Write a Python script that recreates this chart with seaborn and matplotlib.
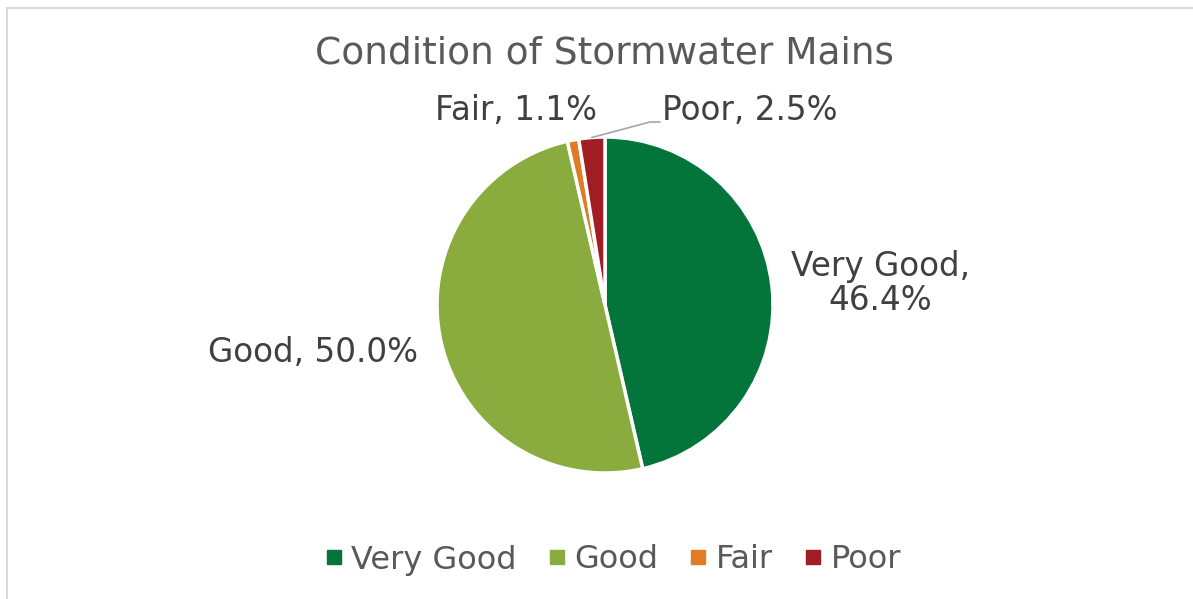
#!/usr/bin/env python3
"""Pie chart: condition of stormwater mains."""
import numpy as np
import matplotlib as mpl
import matplotlib.pyplot as plt
from matplotlib.lines import Line2D
import seaborn as sns

categories = ["Very Good", "Good", "Fair", "Poor"]
shares = [46.4, 50.0, 1.1, 2.5]
colors = ["#03753B", "#8AAB3E", "#E07B28", "#A21C23"]

# label centre positions in pie-radius units (layout only)
label_pos = [(1.64, 0.13), (-1.74, -0.28), (-0.53, 1.16), (0.86, 1.16)]

sns.set_theme(style="white")
plt.rcParams["font.family"] = "sans-serif"
plt.rcParams["font.sans-serif"] = ["DejaVu Sans"]

W, H = 1193, 599
fig = plt.figure(figsize=(W / 100, H / 100), dpi=100)

# chart border (light grey frame, clipped at right/bottom)
fig.add_artist(Line2D([7 / W, 7 / W], [0, 1 - 8 / H], color="#D9D9D9", lw=1.5))
fig.add_artist(Line2D([7 / W, 1], [1 - 8 / H, 1 - 8 / H], color="#D9D9D9", lw=1.5))

cx, cy, r = 605, 305, 168
ax = fig.add_axes([(cx - r) / W, (H - cy - r) / H, 2 * r / W, 2 * r / H])
wedges, _ = ax.pie(
    shares,
    colors=colors,
    startangle=90,
    counterclock=False,
    radius=1,
    wedgeprops={"edgecolor": "white", "linewidth": 2.5},
)
ax.set_xlim(-1, 1)
ax.set_ylim(-1, 1)
ax.set_aspect("equal")
ax.axis("off")

for i, (w, cat, val) in enumerate(zip(wedges, categories, shares)):
    lx, ly = label_pos[i]
    txt = f"{cat},\n{val:.1f}%" if cat == "Very Good" else f"{cat}, {val:.1f}%"
    ax.text(lx, ly, txt, ha="center", va="center", fontsize=23.5,
            color="#404040", clip_on=False, linespacing=1.05)

# leader line for the small "Poor" slice
poor = wedges[3]
mid = np.deg2rad((poor.theta1 + poor.theta2) / 2)
x0, y0 = np.cos(mid), np.sin(mid)
ax.plot([x0, (650 - cx) / r, (660 - cx) / r], [y0, (cy - 122) / r, (cy - 122) / r],
        color="#A6A6A6", lw=1.2, clip_on=False)

fig.text(604.5 / W, 1 - 53 / H, "Condition of Stormwater Mains", ha="center",
         va="center", fontsize=27, color="#595959")

handles = [Line2D([], [], marker="s", linestyle="", markersize=9.5,
                  markerfacecolor=c, markeredgecolor=c) for c in colors]
fig.legend(handles, categories, loc="center", bbox_to_anchor=(611 / W, 1 - 560 / H),
           ncol=4, frameon=False, fontsize=23, handletextpad=0.15,
           columnspacing=0.85, labelcolor="#595959", handlelength=0.8)

fig.savefig("out.png", dpi=100, facecolor="white")
